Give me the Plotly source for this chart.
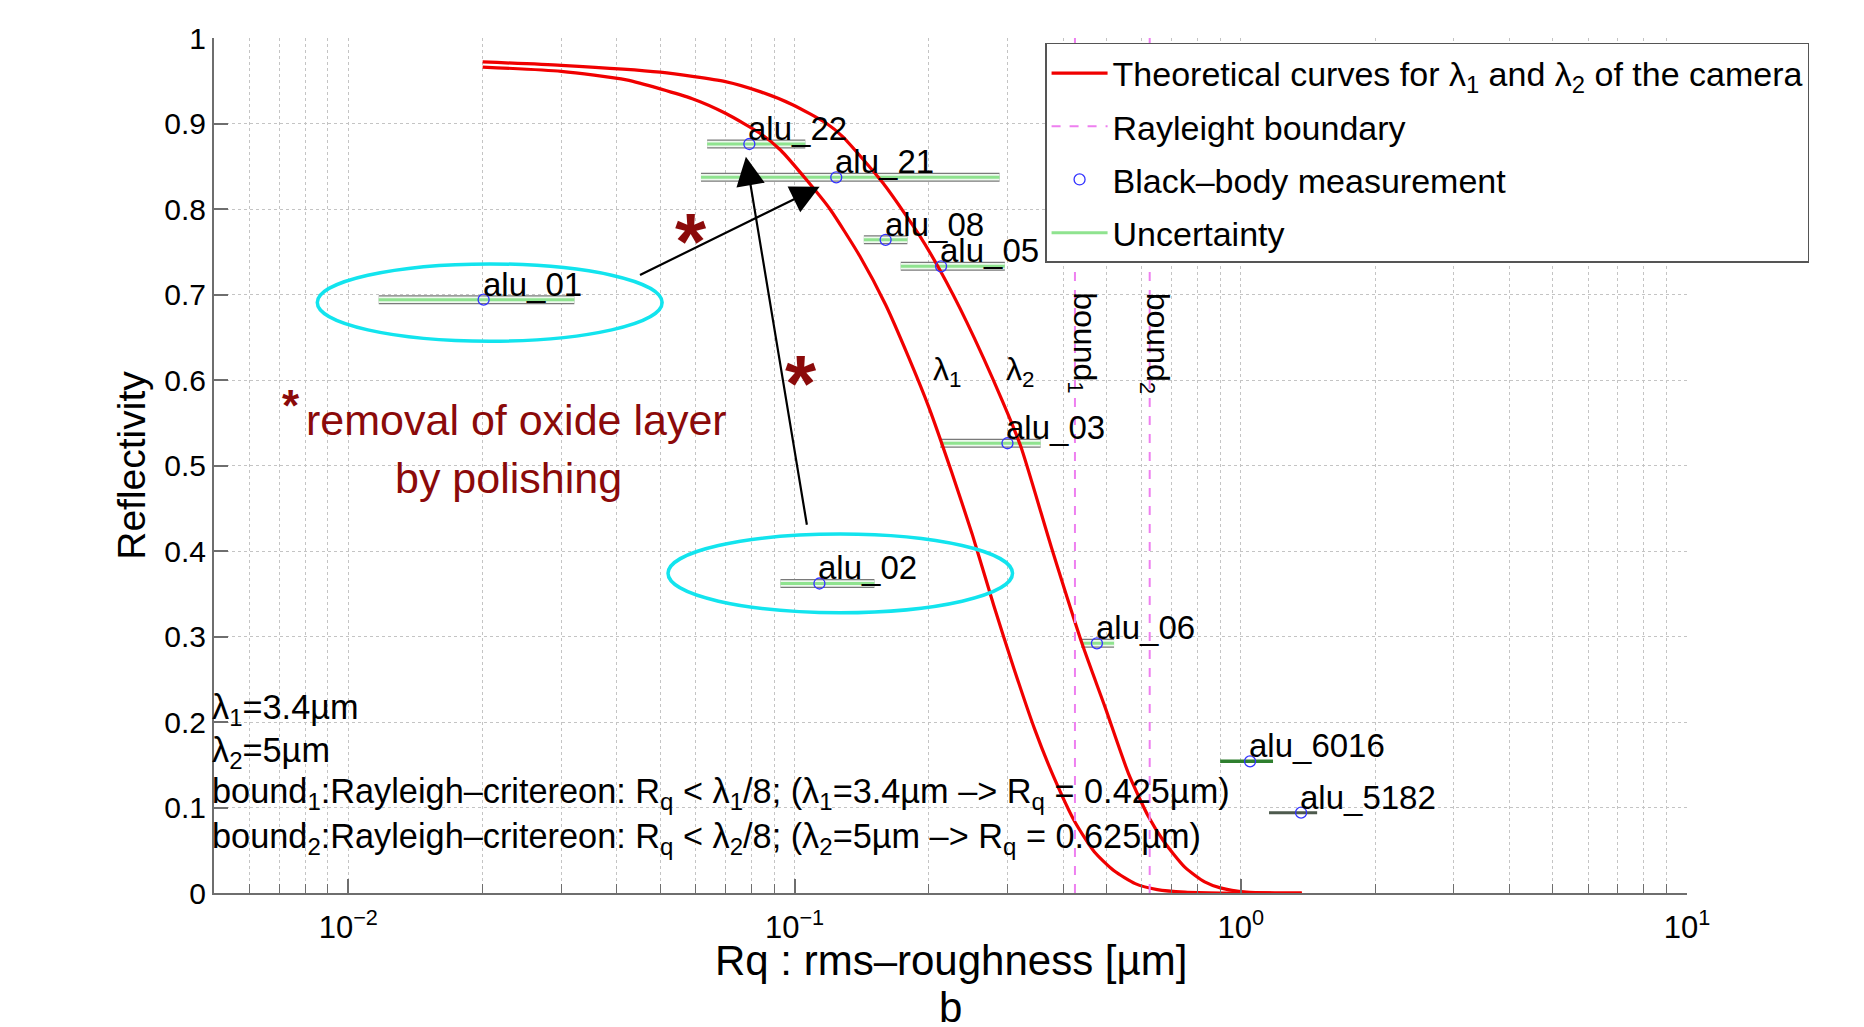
import numpy as np
import plotly.graph_objects as go

# ---------------- data ----------------
sample_names = ["alu_01", "alu_22", "alu_21", "alu_08", "alu_05",
                "alu_03", "alu_02", "alu_06", "alu_6016", "alu_5182"]
rq_um = [0.0201, 0.0792, 0.124, 0.160, 0.213, 0.300, 0.1137, 0.476, 1.049, 1.365]
reflectivity = [0.694, 0.876, 0.837, 0.764, 0.733, 0.526, 0.362, 0.292, 0.154, 0.094]
rq_low = [0.0117, 0.0637, 0.0617, 0.143, 0.173, 0.212, 0.093, 0.439, 0.899, 1.157]
rq_high = [0.0321, 0.1057, 0.288, 0.179, 0.296, 0.356, 0.151, 0.520, 1.181, 1.483]

# theoretical curves (lambda1 = 3.4 um, lambda2 = 5 um)
curve1_rq = [0.020, 0.030, 0.042, 0.059, 0.070, 0.084, 0.093, 0.106, 0.120, 0.140,
             0.160, 0.180, 0.200, 0.225, 0.250, 0.280, 0.310, 0.345, 0.380, 0.425,
             0.470, 0.520, 0.580, 0.650, 0.750, 0.900, 1.100, 1.370]
curve1_refl = [0.966, 0.961, 0.951, 0.929, 0.912, 0.888, 0.869, 0.835, 0.800, 0.745,
               0.688, 0.627, 0.568, 0.492, 0.420, 0.335, 0.263, 0.192, 0.137, 0.083,
               0.048, 0.026, 0.011, 0.004, 0.001, 0.000, 0.000, 0.000]
curve2_rq = [0.020, 0.030, 0.050, 0.070, 0.084, 0.099, 0.118, 0.128, 0.158, 0.190,
             0.212, 0.243, 0.292, 0.321, 0.376, 0.442, 0.496, 0.560, 0.620, 0.673,
             0.750, 0.830, 0.900, 1.030, 1.200, 1.370]
curve2_refl = [0.972, 0.968, 0.960, 0.949, 0.937, 0.922, 0.900, 0.885, 0.830, 0.770,
               0.728, 0.668, 0.576, 0.523, 0.405, 0.290, 0.218, 0.140, 0.090, 0.060,
               0.030, 0.013, 0.006, 0.001, 0.000, 0.000]

rayleigh_bounds = [0.425, 0.625]

x_tick_vals = [0.01, 0.1, 1, 10]
x_tick_text = ["10<sup>−2</sup>", "10<sup>−1</sup>", "10<sup>0</sup>", "10<sup>1</sup>"]
y_tick_vals = [0, 0.1, 0.2, 0.3, 0.4, 0.5, 0.6, 0.7, 0.8, 0.9, 1]
y_tick_text = ["0", "0.1", "0.2", "0.3", "0.4", "0.5", "0.6", "0.7", "0.8", "0.9", "1"]

X_RANGE = [0.005, 10]
FONT = "Liberation Sans, Arial, Helvetica, sans-serif"
DARKRED = "#8b0a0a"
CYAN = "#12e4ee"
VIOLET = "#ee7ff0"
GRID = "#c4c4c4"
AXIS = "#6e6e6e"

minor_vals = [m * 10.0 ** e for e in range(-3, 1) for m in range(2, 10)
              if X_RANGE[0] < m * 10.0 ** e < X_RANGE[1]]


def lx(v):
    return float(np.log10(v))


fig = go.Figure()

# ---------------- uncertainty bars ----------------
boxed = [i for i, n in enumerate(sample_names) if n not in ("alu_6016", "alu_5182")]


def seg(idx):
    xs, ys = [], []
    for i in idx:
        xs += [rq_low[i], rq_high[i], None]
        ys += [reflectivity[i], reflectivity[i], None]
    return xs, ys


bx, by = seg(boxed)
fig.add_trace(go.Scatter(x=bx, y=by, mode="lines", line=dict(color="#7a7a7a", width=9),
                         showlegend=False, hoverinfo="skip"))
fig.add_trace(go.Scatter(x=bx, y=by, mode="lines", line=dict(color="#eef9ee", width=6.5),
                         showlegend=False, hoverinfo="skip"))
fig.add_trace(go.Scatter(x=bx, y=by, mode="lines", line=dict(color="#8fe38f", width=3),
                         name="Uncertainty", legendgroup="g4", legendrank=4,
                         hoverinfo="skip"))
gx, gy = seg([sample_names.index("alu_6016")])
fig.add_trace(go.Scatter(x=gx, y=gy, mode="lines", line=dict(color="#2f7f2f", width=3.5),
                         showlegend=False, legendgroup="g4", hoverinfo="skip"))
kx, ky = seg([sample_names.index("alu_5182")])
fig.add_trace(go.Scatter(x=kx, y=ky, mode="lines", line=dict(color="#4d5a4d", width=3),
                         showlegend=False, legendgroup="g4", hoverinfo="skip"))

# ---------------- theoretical curves ----------------
fig.add_trace(go.Scatter(x=curve1_rq, y=curve1_refl, mode="lines",
                         line=dict(color="#f00000", width=3.2, shape="spline", smoothing=0.6),
                         name="Theoretical curves for λ<sub>1</sub> and λ<sub>2</sub> of the camera",
                         legendgroup="g1", legendrank=1, hoverinfo="skip"))
fig.add_trace(go.Scatter(x=curve2_rq, y=curve2_refl, mode="lines",
                         line=dict(color="#f00000", width=3.2, shape="spline", smoothing=0.6),
                         showlegend=False, legendgroup="g1", hoverinfo="skip"))

# ---------------- Rayleigh boundaries ----------------
for k, b in enumerate(rayleigh_bounds):
    fig.add_trace(go.Scatter(x=[b, b], y=[0, 1], mode="lines",
                             line=dict(color=VIOLET, width=2, dash="dash"),
                             name="Rayleight boundary", legendgroup="g2", legendrank=2,
                             showlegend=(k == 0), hoverinfo="skip"))

# ---------------- measurements ----------------
fig.add_trace(go.Scatter(x=rq_um, y=reflectivity, mode="markers",
                         marker=dict(symbol="circle-open", size=11, color="#3434ff",
                                     line=dict(width=1.3, color="#3434ff")),
                         name="Black–body measurement", legendgroup="g3", legendrank=3,
                         text=sample_names, hoverinfo="text+x+y"))

# ---------------- annotations ----------------
ann = []
for n, xv, yv in zip(sample_names, rq_um, reflectivity):
    ann.append(dict(x=lx(xv), y=yv, text=n, showarrow=False, xanchor="left",
                    yanchor="bottom", yshift=-5, xshift=-3,
                    font=dict(size=33, color="black", family=FONT)))

# arrows
ann.append(dict(x=lx(0.1138), y=0.826, ax=lx(0.0447), ay=0.722, axref="x", ayref="y",
                xref="x", yref="y", text="", showarrow=True, arrowhead=2,
                arrowsize=2.6, arrowwidth=2.2, arrowcolor="black"))
ann.append(dict(x=lx(0.0778), y=0.861, ax=lx(0.1067), ay=0.429, axref="x", ayref="y",
                xref="x", yref="y", text="", showarrow=True, arrowhead=2,
                arrowsize=2.6, arrowwidth=2.2, arrowcolor="black"))

# big asterisks
for xv, yv in [(0.0585, 0.7774), (0.1035, 0.6106)]:
    ann.append(dict(x=lx(xv), y=yv, text="<b>*</b>", showarrow=False, xanchor="center",
                    yanchor="middle", yshift=-13,
                    font=dict(size=80, color=DARKRED, family=FONT)))

# red note
ann.append(dict(x=lx(0.0238), y=0.5536, text="removal of oxide layer", showarrow=False,
                xanchor="center", yanchor="middle",
                font=dict(size=43, color=DARKRED, family=FONT)))
ann.append(dict(x=lx(0.0229), y=0.4854, text="by polishing", showarrow=False,
                xanchor="center", yanchor="middle",
                font=dict(size=43, color=DARKRED, family=FONT)))
ann.append(dict(x=lx(0.00745), y=0.5696, text="<b>*</b>", showarrow=False,
                xanchor="center", yanchor="middle",
                font=dict(size=44, color=DARKRED, family=FONT)))

# lambda labels
ann.append(dict(x=lx(0.2071), y=0.6105, text="λ<sub>1</sub>", showarrow=False, xshift=-5,
                xanchor="left", yanchor="middle", font=dict(size=32, color="black", family=FONT)))
ann.append(dict(x=lx(0.303), y=0.6105, text="λ<sub>2</sub>", showarrow=False, xshift=-5,
                xanchor="left", yanchor="middle", font=dict(size=32, color="black", family=FONT)))

# bound labels (rotated)
ann.append(dict(x=lx(0.443), y=0.643, text="bound<sub>1</sub>", showarrow=False,
                textangle=90, xanchor="center", yanchor="middle",
                font=dict(size=32, color="black", family=FONT)))
ann.append(dict(x=lx(0.644), y=0.643, text="bound<sub>2</sub>", showarrow=False,
                textangle=90, xanchor="center", yanchor="middle",
                font=dict(size=32, color="black", family=FONT)))

# bottom-left notes
notes = [
    (0.2152, "λ<sub>1</sub>=3.4µm"),
    (0.1649, "λ<sub>2</sub>=5µm"),
    (0.1158, "bound<sub>1</sub>:Rayleigh–critereon: R<sub>q</sub> &lt; λ<sub>1</sub>/8; "
             "(λ<sub>1</sub>=3.4µm –&gt; R<sub>q</sub> = 0.425µm)"),
    (0.0643, "bound<sub>2</sub>:Rayleigh–critereon: R<sub>q</sub> &lt; λ<sub>2</sub>/8; "
             "(λ<sub>2</sub>=5µm –&gt; R<sub>q</sub> = 0.625µm)"),
]
for yv, t in notes:
    ann.append(dict(x=lx(X_RANGE[0]), y=yv, text=t, showarrow=False, xanchor="left",
                    xshift=-4, yanchor="middle",
                    font=dict(size=34.3, color="black", family=FONT)))

# x-axis title and figure label
ann.append(dict(x=0.5, y=-0.0791, xref="paper", yref="paper",
                text="Rq : rms–roughness [µm]", showarrow=False,
                xanchor="center", yanchor="middle",
                font=dict(size=42, color="black", family=FONT)))
ann.append(dict(x=0.5003, y=-0.1345, xref="paper", yref="paper", text="b",
                showarrow=False, xanchor="center", yanchor="middle",
                font=dict(size=42, color="black", family=FONT)))

for a in ann:
    a.setdefault("xref", "x")
    a.setdefault("yref", "y")

# ellipses
shapes = [
    dict(type="circle", xref="x", yref="y", x0=0.00852, x1=0.0505, y0=0.6454, y1=0.7358,
         line=dict(color=CYAN, width=3.5)),
    dict(type="circle", xref="x", yref="y", x0=0.05205, x1=0.308, y0=0.3278, y1=0.4199,
         line=dict(color=CYAN, width=3.5)),
]

fig.update_layout(
    width=1864, height=1027,
    margin=dict(l=206, r=185, t=30, b=142, autoexpand=False),
    paper_bgcolor="white", plot_bgcolor="white",
    font=dict(family=FONT, color="black"),
    annotations=ann, shapes=shapes,
    legend=dict(x=0.5642, y=0.9942, xanchor="left", yanchor="top",
                bgcolor="white", bordercolor="#555555", borderwidth=1.5,
                font=dict(size=34, family=FONT, color="black"),
                tracegroupgap=6, itemwidth=56, traceorder="grouped"),
    xaxis=dict(type="log", range=[lx(X_RANGE[0]), lx(X_RANGE[1])], automargin=False,
               tickmode="array", tickvals=x_tick_vals, ticktext=x_tick_text,
               ticks="inside", ticklen=14, tickwidth=1.5, tickcolor=AXIS,
               ticklabelstandoff=6,
               showline=True, linecolor=AXIS, linewidth=2, mirror=False,
               showgrid=True, gridcolor=GRID, griddash="dot", gridwidth=1,
               zeroline=False, tickfont=dict(size=31, color="black"),
               minor=dict(tickmode="array", tickvals=minor_vals, ticks="inside",
                          ticklen=9, tickwidth=1.2, tickcolor=AXIS, showgrid=True,
                          gridcolor=GRID, griddash="dot", gridwidth=1)),
    yaxis=dict(range=[0, 1], tickmode="array", tickvals=y_tick_vals, ticktext=y_tick_text,
               automargin=False,
               ticks="inside", ticklen=14, tickwidth=1.5, tickcolor=AXIS,
               showline=True, linecolor=AXIS, linewidth=2, mirror=False,
               showgrid=True, gridcolor=GRID, griddash="dot", gridwidth=1,
               zeroline=False, tickfont=dict(size=30, color="black"),
               title=dict(text="Reflectivity", font=dict(size=39), standoff=7)),
)

fig.write_html("out.html")
